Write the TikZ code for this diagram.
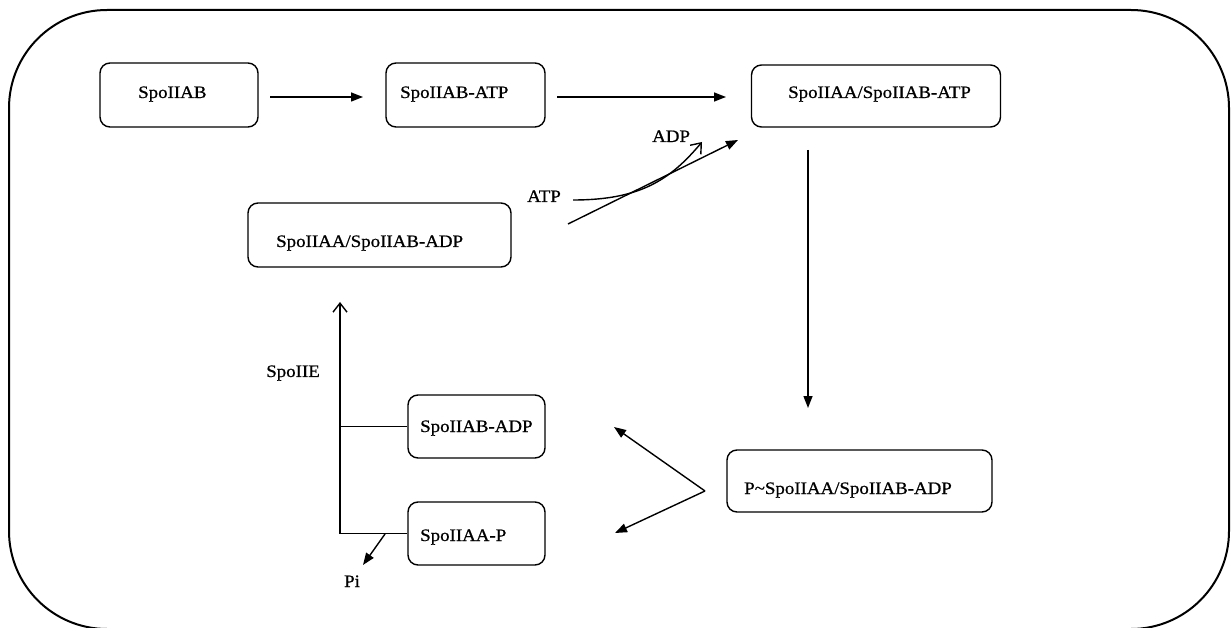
\documentclass[tikz,border=0pt]{standalone}
\usepackage{fontspec}
\setmainfont{Liberation Serif}[FakeStretch=1.08,FakeBold=0.7]
\usetikzlibrary{arrows.meta}
\begin{document}
\begin{tikzpicture}[x=1pt,y=-1pt,
  box/.style={draw, line width=1.4pt, rounded corners=10pt, inner sep=0pt},
  lbl/.style={anchor=base west, inner sep=0pt, font=\fontsize{17.5}{20}\selectfont},
  arr/.style={-{Triangle[length=12pt,width=9pt]}, line width=1.4pt},
  barb/.style={-{Straight Barb[length=9pt,width=14pt]}, line width=1.4pt},
  link/.style={line width=1.4pt}]
\useasboundingbox (0,0) rectangle (1232,628);

% outer frame
\draw[line width=2pt, rounded corners=98pt] (9,10) rectangle (1229,629);

% boxes
\node[box, minimum width=158pt, minimum height=64pt] (b1) at (179,95) {};
\node[box, minimum width=159pt, minimum height=64pt] (b2) at (465.5,95) {};
\node[box, minimum width=249pt, minimum height=62pt] (b3) at (876,96) {};
\node[box, minimum width=263pt, minimum height=64pt] (b4) at (379.5,235) {};
\node[box, minimum width=137pt, minimum height=63pt] (b5) at (476.5,426.5) {};
\node[box, minimum width=137pt, minimum height=63pt] (b6) at (476.5,533.5) {};
\node[box, minimum width=265pt, minimum height=62pt] (b7) at (859.5,481) {};

% box texts
\node[lbl] (t1) at (138,98) {SpoIIAB};
\node[lbl] (t2) at (400,98) {SpoIIAB-ATP};
\node[lbl] (t3) at (788,98) {SpoIIAA/SpoIIAB-ATP};
\node[lbl] (t4) at (276,247) {SpoIIAA/SpoIIAB-ADP};
\node[lbl] (t5) at (420,432) {SpoIIAB-ADP};
\node[lbl] (t6) at (420,541) {SpoIIAA-P};
\node[lbl] (t7) at (744,494) {P\textasciitilde SpoIIAA/SpoIIAB-ADP};

% free labels
\node[lbl] (atp) at (527,202) {ATP};
\node[lbl] (adp) at (652,142) {ADP};
\node[lbl, anchor=base east] (spoiie) at (320,377) {SpoIIE};
\node[lbl, anchor=base] (pi) at (352,587) {Pi};

% connector end points
\coordinate (a1s) at (270,97);
\coordinate (a1e) at (363,97);
\coordinate (a2s) at (557,97);
\coordinate (a2e) at (726,97);
\coordinate (a3s) at (808,150);
\coordinate (a3e) at (808,408);
\coordinate (fork) at (705,491);
\coordinate (f1) at (614,427);
\coordinate (f2) at (615,533);
\coordinate (hs) at (568,224);
\coordinate (he) at (738,140);
\coordinate (cs) at (573,200);
\coordinate (ce) at (702,142);
\coordinate (vt) at (340,302);
\coordinate (ps) at (385,534);
\coordinate (pe) at (363,565);

% reaction arrows
\draw[arr] (a1s) -- (a1e);
\draw[arr] (a2s) -- (a2e);
\draw[arr] (a3s) -- (a3e);
\draw[arr] (fork) -- (f1);
\draw[arr] (fork) -- (f2);
\draw[arr] (hs) -- (he);
\draw[barb] (cs) .. controls (640,200) and (670,180) .. (ce);

% SpoIIE dephosphorylation branch
\draw[barb] (b6.west) -| (vt);
\draw[link] (b5.west) -- (b5.west -| vt);
\draw[arr] (ps) -- (pe);
\end{tikzpicture}
\end{document}
